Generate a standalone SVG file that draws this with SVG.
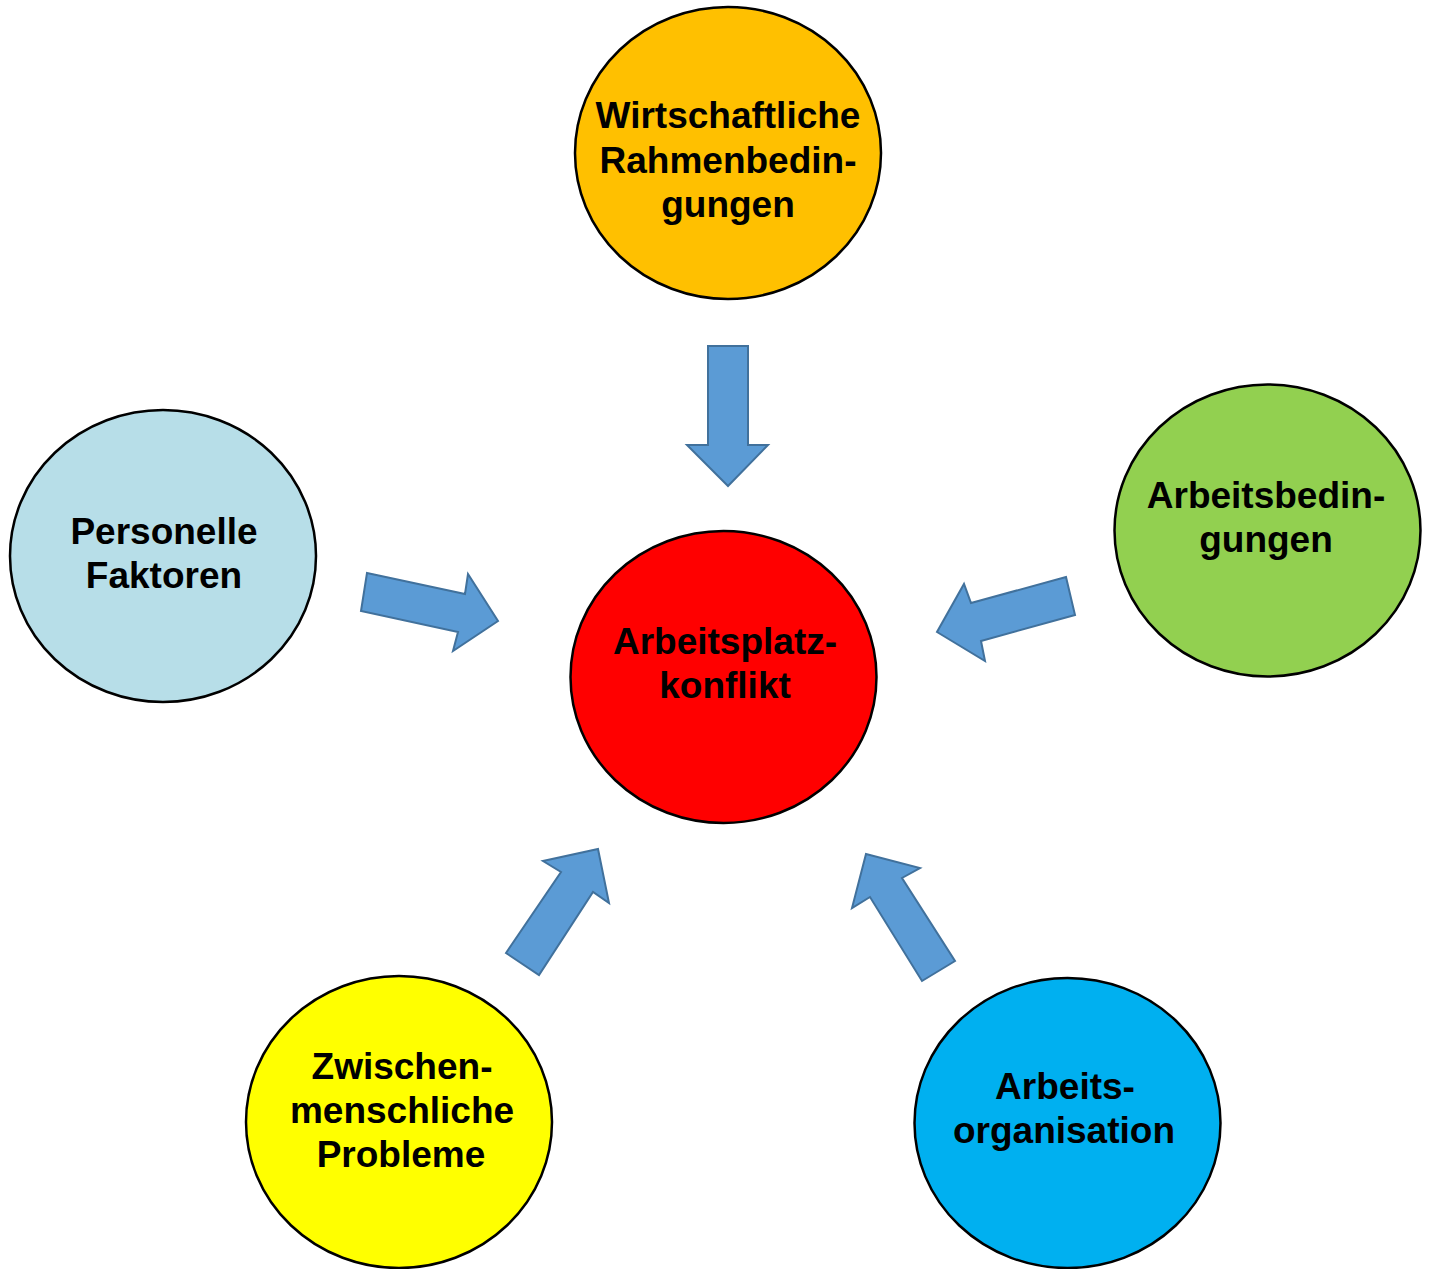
<svg xmlns="http://www.w3.org/2000/svg" width="1430" height="1269" viewBox="0 0 1430 1269">
<style>
.node{stroke:#000;stroke-width:2.5}
.lbl{font-family:"Liberation Sans",Arial,sans-serif;font-weight:bold;font-size:37px;fill:#000;text-anchor:middle}
.arr{fill:#5B9BD5;stroke:#41719C;stroke-width:2;stroke-linejoin:miter}
</style>
<rect width="1430" height="1269" fill="#fff"/>
<g id="connectors">
<polygon class="arr" points="708,346 748,346 748,445 768,445 728,486 687,445 708,445"/>
<polygon class="arr" points="367,573 465,594 468,574 498,621 453,651 458,632 361,611"/>
<polygon class="arr" points="1066,577 971,603 964,584 937,632 985,661 981,641 1075,615"/>
<polygon class="arr" points="506,953 561,872 543,861 598,849 609,903 593,892 539,975"/>
<polygon class="arr" points="866,854 920,868 902,878 955,961 922,981 870,897 852,908"/>
</g>
<g id="wirtschaftliche">
<ellipse class="node" cx="728" cy="153" rx="153" ry="146" fill="#FFC000"/>
<text class="lbl" x="728" y="128">Wirtschaftliche</text>
<text class="lbl" x="728" y="173">Rahmenbedin-</text>
<text class="lbl" x="728" y="217">gungen</text>
</g>
<g id="personelle">
<ellipse class="node" cx="163" cy="556" rx="153" ry="146" fill="#B7DEE8"/>
<text class="lbl" x="164" y="544">Personelle</text>
<text class="lbl" x="164" y="588">Faktoren</text>
</g>
<g id="arbeitsplatzkonflikt">
<ellipse class="node" cx="723.5" cy="677" rx="153" ry="146" fill="#FF0000"/>
<text class="lbl" x="725" y="654">Arbeitsplatz-</text>
<text class="lbl" x="725" y="698">konflikt</text>
</g>
<g id="arbeitsbedingungen">
<ellipse class="node" cx="1267.5" cy="530.5" rx="153" ry="146" fill="#92D050"/>
<text class="lbl" x="1266" y="508">Arbeitsbedin-</text>
<text class="lbl" x="1266" y="552">gungen</text>
</g>
<g id="zwischenmenschliche">
<ellipse class="node" cx="399" cy="1122" rx="153" ry="146" fill="#FFFF00"/>
<text class="lbl" x="402" y="1079">Zwischen-</text>
<text class="lbl" x="402" y="1123">menschliche</text>
<text class="lbl" x="401" y="1167">Probleme</text>
</g>
<g id="arbeitsorganisation">
<ellipse class="node" cx="1067.5" cy="1123" rx="153" ry="145" fill="#00B0F0"/>
<text class="lbl" x="1065" y="1099">Arbeits-</text>
<text class="lbl" x="1064" y="1143">organisation</text>
</g>
</svg>
